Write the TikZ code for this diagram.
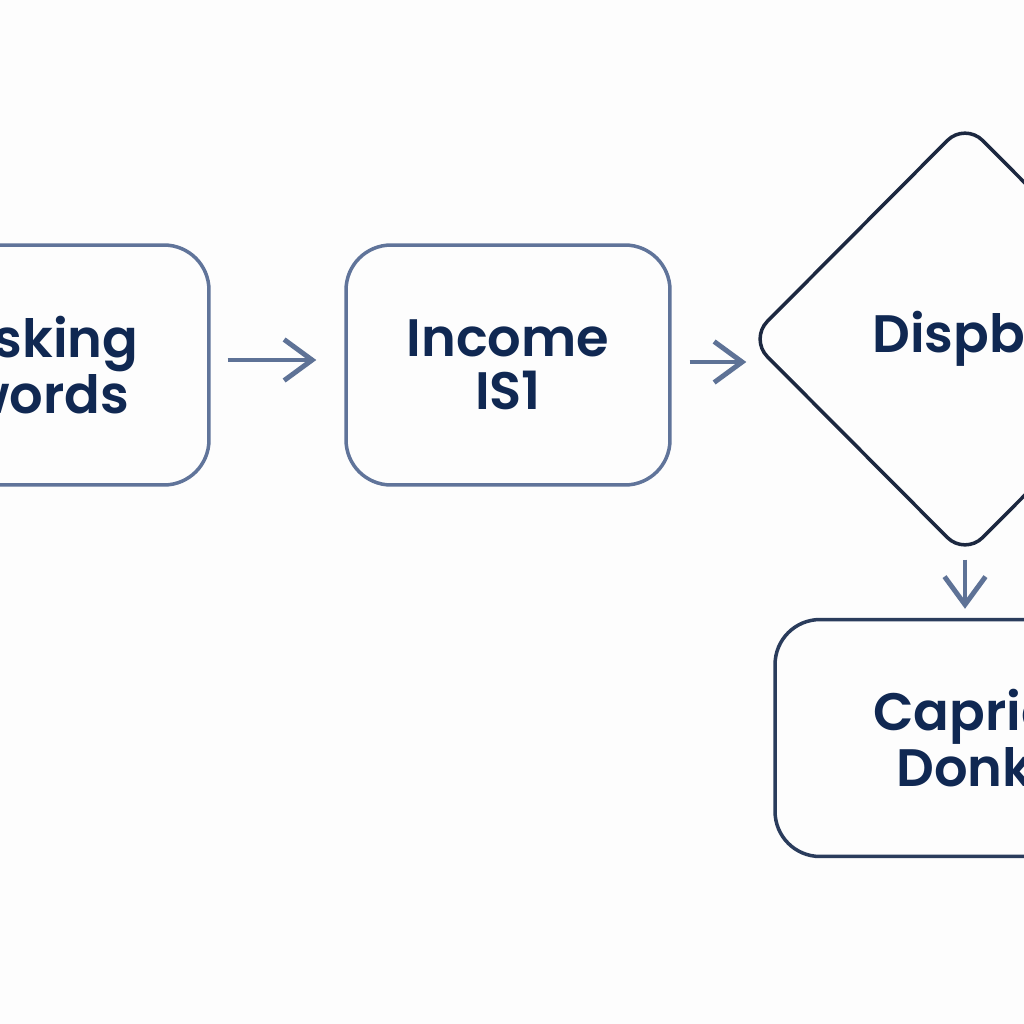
\documentclass[tikz,border=0pt]{standalone}
\usepackage{fontspec}
\setmainfont{Poppins}[BoldFont={Poppins SemiBold}]
\definecolor{inknavy}{RGB}{16,40,82}
\definecolor{edgeslate}{RGB}{96,116,154}
\definecolor{edgedark}{RGB}{28,40,64}
\definecolor{edgedeep}{RGB}{42,60,92}
\definecolor{arrowslate}{RGB}{94,114,150}
\definecolor{paperwhite}{RGB}{253,253,253}
\usetikzlibrary{arrows.meta, shapes.geometric}

\begin{document}
\begin{tikzpicture}[x=0.02cm, y=-0.02cm,
  stage/.style={draw=edgeslate, line width=2pt, rounded corners=0.9cm,
    minimum width=6.48cm, minimum height=4.8cm, inner sep=0pt,
    font=\fontsize{30}{30}\selectfont\bfseries, text=inknavy, align=center},
  check/.style={diamond, draw=edgedark, line width=2pt, rounded corners=0.5cm,
    minimum width=8.64cm, minimum height=8.68cm, inner sep=0pt,
    font=\fontsize{30}{30}\selectfont\bfseries, text=inknavy, align=center},
  flow/.style={-{Straight Barb[length=0.56cm, width=0.82cm]}, arrowslate, line width=2.8pt},
]
  \fill[paperwhite] (0,0) rectangle (1024,1024);
  \useasboundingbox (0,0) rectangle (1024,1024);
  \clip (0,0) rectangle (1024,1024);
  \node[stage] (ask) at (47,365) {Asking\\words};
  \node[stage] (income) at (508,365) {Income\\IS1};
  \node[check] (disp) at (965,339) {Dispbe};
  \node[stage, draw=edgedeep, minimum width=7.6cm, minimum height=4.74cm] (cap) at (965,738) {Caprig\\Donk};
  \draw[flow, shorten <=0.34cm, shorten >=0.56cm] ([yshift=0.1cm]ask.east) -- ([yshift=0.1cm]income.west);
  \draw[flow, shorten <=0.36cm, shorten >=0.02cm] ([yshift=0.06cm]income.east) -- ([yshift=0.06cm]income.east -| disp.west);
  \draw[flow, shorten <=0.04cm, shorten >=0.18cm] (disp) -- (cap);
\end{tikzpicture}
\end{document}
